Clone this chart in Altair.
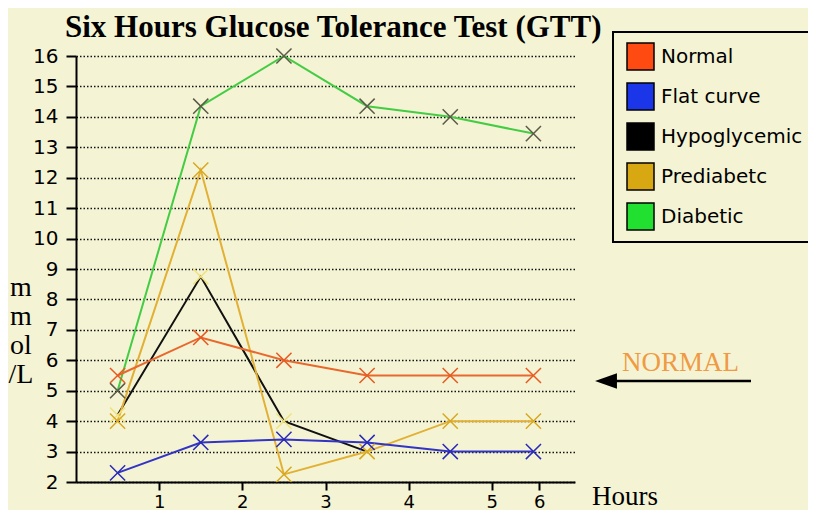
import altair as alt
import pandas as pd

# ---- data ----
hours = [0.5, 1.5, 2.5, 3.5, 4.5, 5.5]
series_names = ["Normal", "Flat curve", "Hypoglycemic", "Prediabetc", "Diabetic"]
normal = [5.5, 6.75, 6.0, 5.5, 5.5, 5.5]
flat_curve = [2.3, 3.3, 3.4, 3.3, 3.0, 3.0]
hypoglycemic = [4.2, 8.75, 4.0, 3.0, None, None]
prediabetc = [4.0, 12.25, 2.25, 3.0, 4.0, 4.0]
diabetic = [5.0, 14.35, 16.0, 14.35, 14.0, 13.45]

line_colors = ["#e8682e", "#3434c4", "#111111", "#e2b034", "#44cc44"]
marker_colors = ["#e85a22", "#2a2ab8", "#f0e27a", "#d8a820", "#5a5a48"]
swatch_colors = ["#ff4a12", "#1a36e8", "#000000", "#d8a812", "#22e030"]
draw_rank = [3, 4, 0, 2, 1]

y_ticks = list(range(2, 17))
x_tick_values = [1, 2, 3, 4, 5, 5.57]
x_tick_labels = ["1", "2", "3", "4", "5", "6"]

BG = "#f4f4d4"

# ---- tables built from the arrays ----
values_by_series = [normal, flat_curve, hypoglycemic, prediabetc, diabetic]
rows = []
for i, (name, vals) in enumerate(zip(series_names, values_by_series)):
    for h, v in zip(hours, vals):
        if v is None:
            continue
        rows.append({"series": name, "hour": h, "value": v,
                     "lcolor": line_colors[i], "mcolor": marker_colors[i],
                     "rank": draw_rank[i]})
df = pd.DataFrame(rows).sort_values(["rank", "hour"]).reset_index(drop=True)

legend_df = pd.DataFrame({"series": series_names, "swatch": swatch_colors,
                          "idx": list(range(len(series_names)))})
one = pd.DataFrame({"a": [0]})

label_expr = "".join(
    f"datum.value == {v} ? '{l}' : " for v, l in zip(x_tick_values, x_tick_labels)
) + "datum.label"

x_enc = alt.X("hour:Q", scale=alt.Scale(domain=[0, 6], nice=False, zero=False),
              axis=alt.Axis(values=x_tick_values, labelExpr=label_expr, title=None,
                            grid=False, tickSize=8, tickWidth=2, tickColor="black",
                            domainColor="black", domainWidth=2, labelPadding=3,
                            labelFont="DejaVu Sans", labelFontSize=18,
                            labelColor="black", labelBaseline="top"))
y_enc = alt.Y("value:Q", scale=alt.Scale(domain=[2, 16], nice=False, zero=False),
              axis=alt.Axis(values=y_ticks, title=None, grid=True,
                            gridDash=[1.5, 2], gridColor="#111111", gridWidth=1.5,
                            tickSize=10, tickWidth=2, tickColor="black",
                            domainColor="black", domainWidth=2, labelPadding=8,
                            labelFont="DejaVu Sans", labelFontSize=20,
                            labelColor="black"))

line_layers = []
for r in range(len(series_names)):
    line_layers.append(
        alt.Chart(df).transform_filter(f"datum.rank == {r}").mark_line(strokeWidth=2).encode(
            x=x_enc, y=y_enc, color=alt.Color("lcolor:N", scale=None),
            order="hour:Q"))

points = alt.Chart(df).mark_point(
    shape="M-1,-1L1,1M-1,1L1,-1", size=230, filled=False, strokeWidth=1.5, opacity=1
).encode(x=x_enc, y=y_enc, color=alt.Color("mcolor:N", scale=None))

legend_box = alt.Chart(one).mark_rect(fill=BG, stroke="black", strokeWidth=2).encode(
    x=alt.value(537), x2=alt.value(760), y=alt.value(-24), y2=alt.value(186))

legend_sw = alt.Chart(legend_df).transform_calculate(
    top="-13 + 40 * datum.idx", bot="14 + 40 * datum.idx"
).mark_rect(stroke="black", strokeWidth=1.5).encode(
    x=alt.value(551), x2=alt.value(578),
    y=alt.Y("top:Q", scale=None), y2=alt.Y2("bot:Q"),
    fill=alt.Color("swatch:N", scale=None))

legend_tx = alt.Chart(legend_df).transform_calculate(
    mid="1 + 40 * datum.idx"
).mark_text(align="left", baseline="middle", font="DejaVu Sans", fontSize=20,
            color="black").encode(
    x=alt.value(585), y=alt.Y("mid:Q", scale=None), text="series:N")

title = alt.Chart(one).mark_text(
    text="Six Hours Glucose Tolerance Test (GTT)", align="left", baseline="alphabetic",
    font="Liberation Serif", fontWeight="bold", fontSize=31, color="black"
).encode(x=alt.value(-11), y=alt.value(-19))

hours_lbl = alt.Chart(one).mark_text(
    text="Hours", align="left", baseline="alphabetic",
    font="Liberation Serif", fontSize=27, color="black"
).encode(x=alt.value(516), y=alt.value(449))

normal_lbl = alt.Chart(one).mark_text(
    text="NORMAL", align="left", baseline="alphabetic",
    font="Liberation Serif", fontSize=27, color="#f09a44"
).encode(x=alt.value(546), y=alt.value(315))

arrow_line = alt.Chart(one).mark_rule(strokeWidth=2.5, color="black").encode(
    x=alt.value(538), x2=alt.value(675), y=alt.value(325))
arrow_head = alt.Chart(one).mark_point(
    shape="M-1,0L1,-0.7L1,0.7Z", size=480, filled=True, color="black", opacity=1
).encode(x=alt.value(530), y=alt.value(325))

ytitle = alt.Chart(one).mark_text(
    text=["m", "m", "ol", "/L"], lineHeight=29, align="center", baseline="middle",
    font="Liberation Serif", fontSize=28, color="black"
).encode(x=alt.value(-55), y=alt.value(232))

chart = alt.layer(
    *line_layers, points, legend_box, legend_sw, legend_tx, title, hours_lbl,
    normal_lbl, arrow_line, arrow_head, ytitle
).properties(
    width=499, height=426, background=BG,
    autosize=alt.AutoSizeParams(type="none"),
    padding={"left": 68, "top": 48, "right": 233, "bottom": 28},
).configure_view(strokeWidth=0)

chart.save("out.html", embed_options={"renderer": "svg", "actions": False})
